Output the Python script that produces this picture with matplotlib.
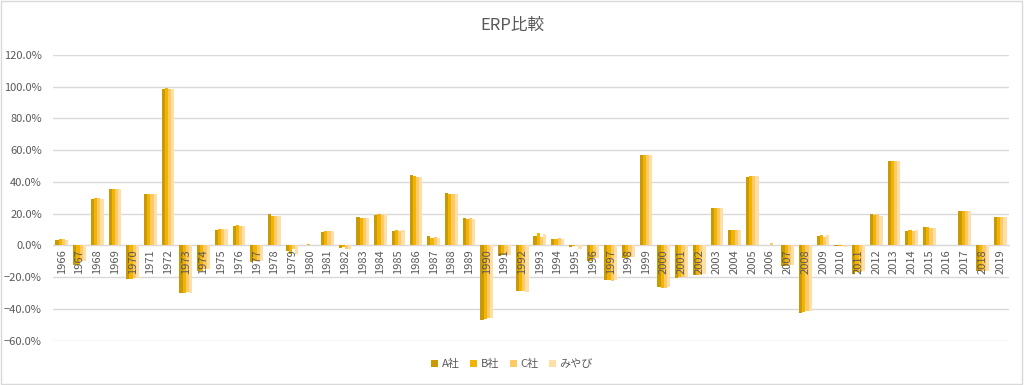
import matplotlib.pyplot as plt
import matplotlib.ticker as mticker
from matplotlib.patches import Rectangle
import numpy as np

plt.rcParams["font.family"] = ["Noto Sans CJK JP", "DejaVu Sans"]

years = [str(y) for y in range(1966, 2020)]
series_names = ["A社", "B社", "C社", "みやび"]
colors = ["#C99A06", "#F2B400", "#FFC966", "#FFDFA8"]

# values in percent
a_vals = [3.6, -12.0, 29.4, 35.3, -21.4, 32.2, 98.4, -29.7, -16.4, 9.7,
          12.2, -10.5, 19.6, -3.4, 0.0, 8.6, -1.5, 17.7, 18.9, 9.0,
          44.4, 6.1, 32.8, 17.0, -46.7, -6.9, -28.4, 6.1, 4.2, -1.0,
          -9.5, -21.7, -8.2, 57.2, -26.3, -20.4, -18.9, 23.6, 9.5, 43.1,
          0.6, -13.2, -42.7, 6.1, -0.5, -18.3, 19.6, 53.0, 9.3, 11.6,
          0.0, 21.9, -16.2, 17.7]
b_vals = [3.8, -12.0, 29.8, 35.3, -21.4, 32.4, 99.3, -30.0, -16.0, 10.3,
          12.6, -10.0, 18.8, -5.3, 1.0, 9.3, -1.0, 17.5, 19.6, 9.7,
          43.7, 4.8, 32.2, 16.4, -46.3, -6.3, -28.8, 7.6, 4.2, -0.5,
          -9.5, -22.0, -8.2, 57.2, -26.9, -20.0, -18.9, 23.6, 9.9, 44.0,
          0.4, -13.2, -42.0, 6.7, -0.5, -16.8, 19.1, 53.0, 9.9, 11.6,
          0.0, 21.9, -16.2, 17.7]
c_vals = [3.8, -10.0, 29.8, 35.3, -20.5, 32.6, 98.8, -29.5, -15.0, 10.3,
          12.2, -9.5, 18.6, -2.3, 0.5, 8.8, -2.0, 17.1, 18.9, 9.3,
          43.0, 5.5, 32.2, 17.5, -45.8, -6.0, -28.4, 5.5, 4.8, 0.6,
          -8.0, -22.3, -7.4, 57.2, -26.9, -20.0, -18.9, 23.6, 9.9, 43.5,
          1.3, -12.0, -41.4, 5.5, -0.5, -16.8, 19.6, 53.0, 9.3, 11.1,
          0.0, 21.9, -16.2, 17.7]
m_vals = [3.6, -10.0, 29.4, 35.3, -20.5, 32.4, 98.4, -30.0, -15.0, 10.3,
          12.2, -9.5, 18.6, -5.3, 0.3, 9.0, -2.0, 17.5, 19.6, 9.7,
          43.0, 4.8, 32.2, 16.4, -45.8, -6.0, -29.2, 7.4, 4.2, -2.0,
          -8.0, -21.5, -7.4, 57.2, -26.3, -20.0, -18.3, 23.6, 9.9, 43.7,
          0.6, -12.0, -41.4, 6.7, -1.0, -15.8, 18.7, 53.0, 9.7, 11.1,
          0.0, 21.6, -15.8, 17.7]

data = [a_vals, b_vals, c_vals, m_vals]

fig = plt.figure(figsize=(10.24, 3.85), dpi=100)
ax = fig.add_axes([53 / 1024, 44 / 385, 956 / 1024, 286 / 385])

x = np.arange(len(years))
width = 0.18
for i, (name, vals, color) in enumerate(zip(series_names, data, colors)):
    offset = (i - 1.5) * width
    ax.bar(x + offset, np.array(vals) / 100, width, color=color, label=name,
           linewidth=0, zorder=3)

ax.set_xlim(-0.5, len(years) - 0.5)
ax.set_ylim(-0.602, 1.2)
ax.set_yticks(np.arange(-0.6, 1.21, 0.2))
ax.yaxis.set_major_formatter(mticker.PercentFormatter(1.0, decimals=1))
ax.grid(axis="y", color="#D9D9D9", linewidth=1)
ax.yaxis.set_zorder(0)
# year labels sit on top of the bars, like in Excel
ax.xaxis.set_zorder(5)

for s in ["top", "right", "left"]:
    ax.spines[s].set_visible(False)
ax.spines["bottom"].set_position(("data", 0))
ax.spines["bottom"].set_color("#D9D9D9")
ax.spines["bottom"].set_zorder(2)

ax.set_xticks(x)
ax.set_xticklabels(years, rotation=90, fontsize=8, color="#595959")
ax.tick_params(axis="x", length=0, pad=3)
ax.tick_params(axis="y", length=0, pad=8, labelsize=8, labelcolor="#595959")

fig.text(0.5, 1 - 25 / 385, "ERP比較", ha="center", va="center",
         fontsize=12, color="#595959")

leg = fig.legend(loc="center", bbox_to_anchor=(0.5, 1 - 364 / 385), ncol=4,
                 frameon=False, fontsize=8, handlelength=0.6, handleheight=0.6,
                 handletextpad=0.3, columnspacing=1.0)
for t in leg.get_texts():
    t.set_color("#595959")

fig.patches.append(Rectangle((0.001, 0.002), 0.997, 0.995, transform=fig.transFigure,
                             fill=False, edgecolor="#D9D9D9", linewidth=1))

fig.savefig("out.png", dpi=100)
